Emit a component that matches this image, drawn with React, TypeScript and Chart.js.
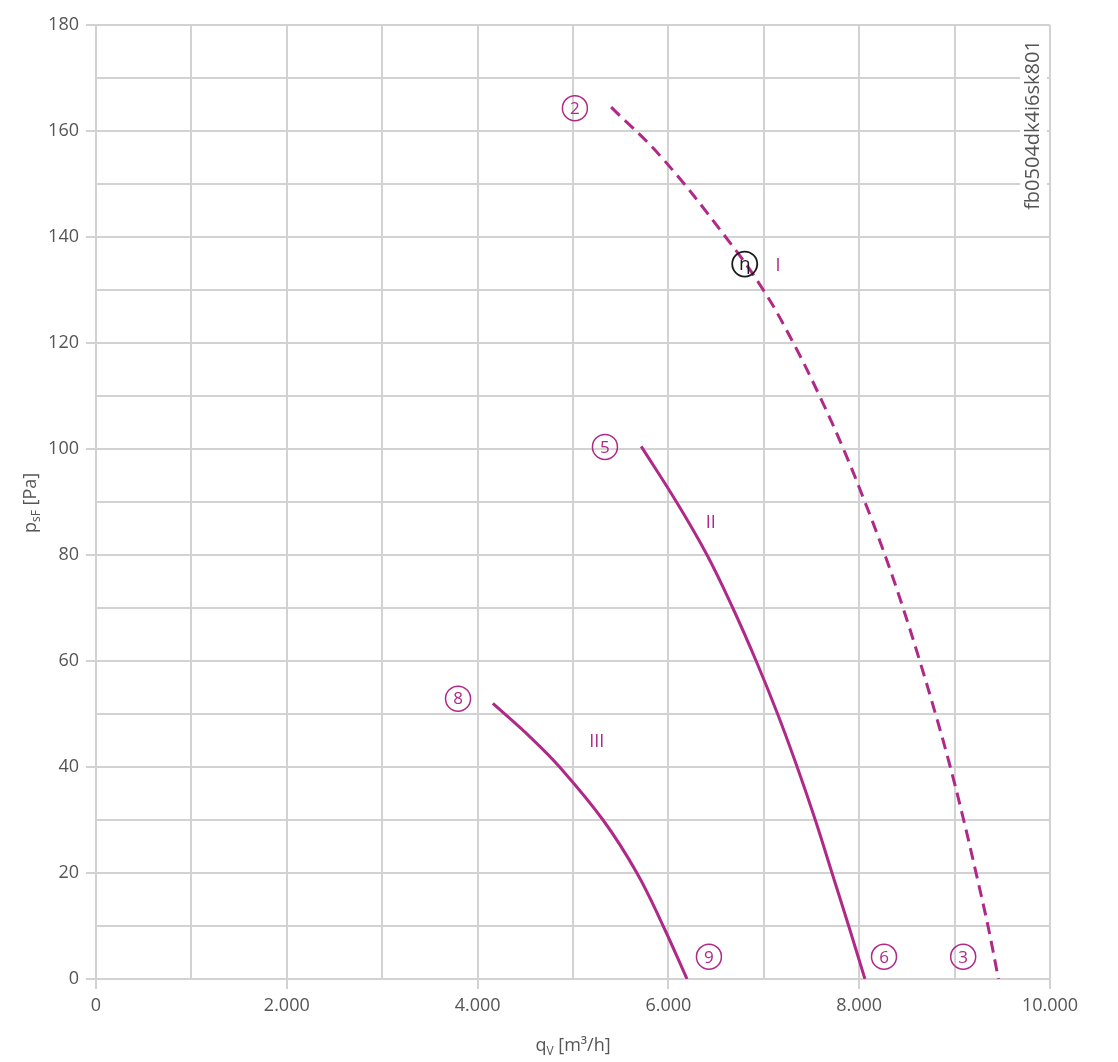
import React, { useEffect, useRef } from "react";
import { Chart, registerables } from "chart.js";

Chart.register(...registerables);

// Curve I (dashed)
const curveIq = [5400, 5930, 6600, 6995, 7310, 7585, 7835, 8060, 8270, 8460, 8635, 8800, 8955, 9095, 9225, 9350, 9460];
const curveIp = [164.5, 155, 140, 130, 120, 110, 100, 90, 80, 70, 60, 50, 40, 30, 20, 10, 0];
// Curve II
const curveIIq = [5715, 6085, 6405, 6675, 6920, 7145, 7350, 7540, 7715, 7890, 8060];
const curveIIp = [100.5, 90, 80, 70, 60, 50, 40, 30, 20, 10, 0];
// Curve III
const curveIIIq = [4160, 4560, 4860, 5315, 5670, 5945, 6195];
const curveIIIp = [52, 45.5, 40, 30, 20, 10, 0];

// Circled point labels
const markerLabels = ["2", "5", "8", "9", "6", "3"];
const markerQ = [5020, 5335, 3795, 6425, 8260, 9090];
const markerP = [164.3, 100.4, 52.9, 4.2, 4.2, 4.2];
// Efficiency marker
const etaQ = 6800;
const etaP = 134.9;
// Curve names
const romanLabels = ["I", "II", "III"];
const romanQ = [7150, 6445, 5250];
const romanP = [134.5, 86, 44.7];

const xMin = 0;
const xMax = 10000;
const xStep = 1000;
const yMin = 0;
const yMax = 180;
const yStep = 10;
const idText = "fb0504dk4i6sk801";

const MAGENTA = "#b02888";
const GRID = "#d2d2d2";
const TEXT = "#555555";
const FONT = "'Open Sans', 'Noto Sans', sans-serif";

const toPts = (q: number[], p: number[]) => q.map((v, i) => ({ x: v, y: p[i] }));

const annotationPlugin = {
  id: "annotations",
  beforeDatasetsDraw(chart: any) {
    const ctx = chart.ctx;
    const ca = chart.chartArea;
    ctx.save();
    ctx.fillStyle = "#ffffff";
    ctx.fillRect(ca.right - 30, ca.top + 10, 27, 190);
    ctx.restore();
  },
  afterDatasetsDraw(chart: any) {
    const ctx = chart.ctx;
    const xs = chart.scales.x;
    const ys = chart.scales.y;
    const ca = chart.chartArea;
    ctx.save();
    ctx.textAlign = "center";
    ctx.textBaseline = "middle";
    markerLabels.forEach((t, i) => {
      const px = xs.getPixelForValue(markerQ[i]);
      const py = ys.getPixelForValue(markerP[i]);
      ctx.beginPath();
      ctx.arc(px, py, 12.5, 0, Math.PI * 2);
      ctx.lineWidth = 1.5;
      ctx.strokeStyle = MAGENTA;
      ctx.stroke();
      ctx.fillStyle = MAGENTA;
      ctx.font = `17px ${FONT}`;
      ctx.fillText(t, px, py + 1);
    });
    {
      const px = xs.getPixelForValue(etaQ);
      const py = ys.getPixelForValue(etaP);
      ctx.beginPath();
      ctx.arc(px, py, 12.5, 0, Math.PI * 2);
      ctx.lineWidth = 1.8;
      ctx.strokeStyle = "#1a1a1a";
      ctx.stroke();
      ctx.fillStyle = "#1a1a1a";
      ctx.font = `19px ${FONT}`;
      ctx.fillText("η", px, py + 1);
    }
    romanLabels.forEach((t, i) => {
      const px = xs.getPixelForValue(romanQ[i]);
      const py = ys.getPixelForValue(romanP[i]);
      ctx.fillStyle = MAGENTA;
      ctx.font = `18px ${FONT}`;
      ctx.fillText(t, px, py);
    });
    // rotated id text
    ctx.save();
    ctx.translate(ca.right - 17, ca.top + 100);
    ctx.rotate(-Math.PI / 2);
    ctx.fillStyle = TEXT;
    ctx.font = `20px ${FONT}`;
    ctx.fillText(idText, 0, 0);
    ctx.restore();

    // y axis title p_sF [Pa]
    ctx.save();
    ctx.translate(30, 503);
    ctx.rotate(-Math.PI / 2);
    ctx.fillStyle = TEXT;
    ctx.textAlign = "left";
    ctx.textBaseline = "alphabetic";
    const parts1: [string, number, number][] = [["p", 18, 0], ["sF", 12, 4], [" [Pa]", 18, 0]];
    let total = 0;
    parts1.forEach(([s, f]) => { ctx.font = `${f}px ${FONT}`; total += ctx.measureText(s).width; });
    let cx = -total / 2;
    parts1.forEach(([s, f, dy]) => { ctx.font = `${f}px ${FONT}`; ctx.fillText(s, cx, 6 + dy); cx += ctx.measureText(s).width; });
    ctx.restore();

    // x axis title q_V [m³/h]
    ctx.save();
    ctx.fillStyle = TEXT;
    ctx.textAlign = "left";
    ctx.textBaseline = "alphabetic";
    const parts2: [string, number, number][] = [["q", 18, 0], ["V", 12, 4], [" [m³/h]", 18, 0]];
    total = 0;
    parts2.forEach(([s, f]) => { ctx.font = `${f}px ${FONT}`; total += ctx.measureText(s).width; });
    cx = (ca.left + ca.right) / 2 - total / 2;
    parts2.forEach(([s, f, dy]) => { ctx.font = `${f}px ${FONT}`; ctx.fillText(s, cx, 1051 + dy); cx += ctx.measureText(s).width; });
    ctx.restore();

    ctx.restore();
  },
};

export default function App() {
  const ref = useRef<HTMLCanvasElement | null>(null);
  useEffect(() => {
    if (!ref.current) return;
    const ds = (q: number[], p: number[], dash: number[]) => ({
      data: toPts(q, p),
      borderColor: MAGENTA,
      borderWidth: 3,
      borderDash: dash,
      pointRadius: 0,
      tension: 0.4,
      fill: false,
    });
    const chart = new Chart(ref.current, {
      type: "line",
      data: {
        datasets: [
          ds(curveIq, curveIp, [12, 7]),
          ds(curveIIq, curveIIp, []),
          ds(curveIIIq, curveIIIp, []),
        ],
      },
      options: {
        animation: false,
        responsive: false,
        devicePixelRatio: 1,
        layout: { padding: { top: 25, right: 68, left: 0, bottom: 0 } },
        plugins: { legend: { display: false }, tooltip: { enabled: false } },
        scales: {
          x: {
            type: "linear",
            min: xMin,
            max: xMax,
            afterFit: (s: any) => { s.height = 83; },
            ticks: {
              stepSize: xStep,
              autoSkip: false,
              maxRotation: 0,
              color: TEXT,
              padding: 6,
              font: { family: FONT, size: 18 },
              callback: (v: any) => (Number(v) % 2000 === 0 ? Number(v).toLocaleString("de-DE") : ""),
            },
            grid: {
              color: GRID,
              lineWidth: 2,
              tickLength: 10,
              tickColor: (c: any) => (c.tick && c.tick.value % 2000 === 0 ? GRID : "rgba(0,0,0,0)"),
            },
            border: { display: true, color: GRID, width: 2 },
          },
          y: {
            type: "linear",
            min: yMin,
            max: yMax,
            afterFit: (s: any) => { s.width = 96; },
            ticks: {
              stepSize: yStep,
              autoSkip: false,
              color: TEXT,
              padding: 7,
              font: { family: FONT, size: 18 },
              callback: (v: any) => (Number(v) % 20 === 0 ? String(v) : ""),
            },
            grid: {
              color: GRID,
              lineWidth: 2,
              tickLength: 10,
              tickColor: (c: any) => (c.tick && c.tick.value % 20 === 0 ? GRID : "rgba(0,0,0,0)"),
            },
            border: { display: true, color: GRID, width: 2 },
          },
        },
      },
      plugins: [annotationPlugin],
    } as any);
    return () => chart.destroy();
  }, []);
  return (
    <div style={{ position: "absolute", left: 0, top: 0, width: 1118, height: 1062, background: "#fff" }}>
      <canvas ref={ref} width={1118} height={1062} style={{ display: "block" }} />
    </div>
  );
}
